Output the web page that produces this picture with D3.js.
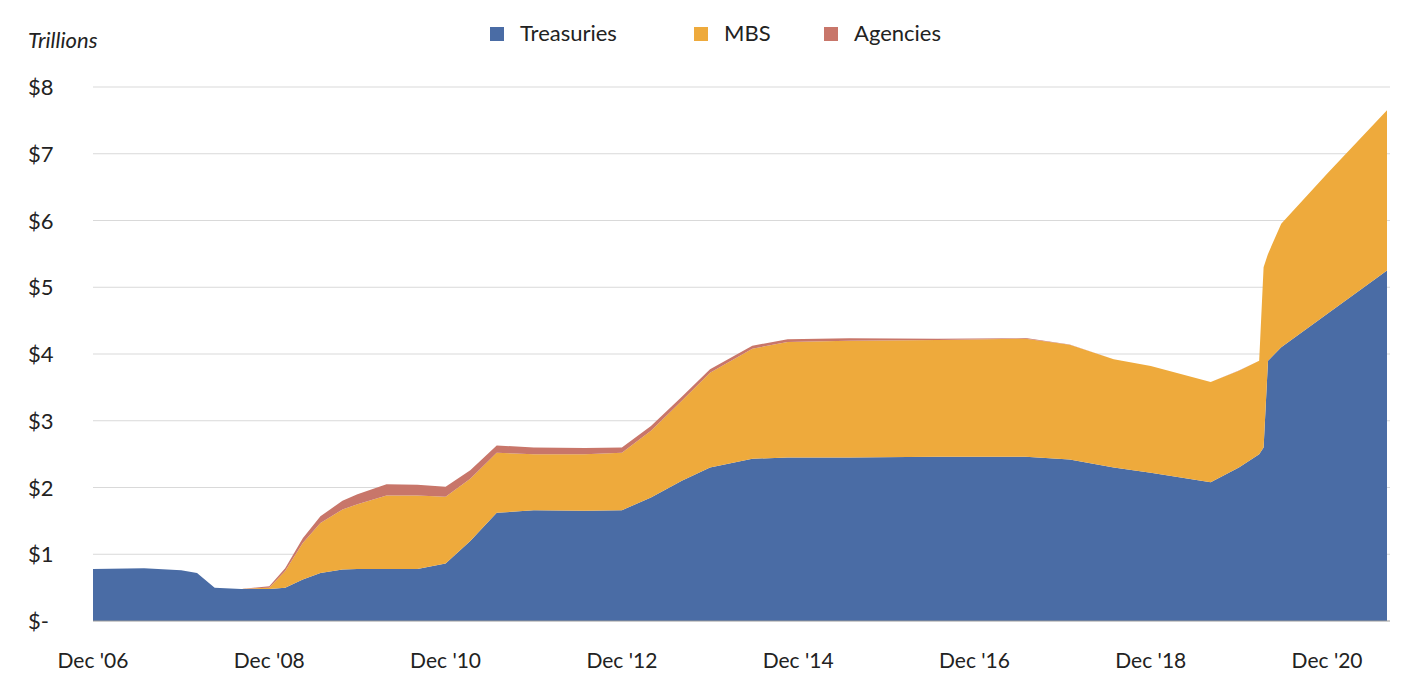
<!DOCTYPE html><html><head><meta charset="utf-8">
<script src="https://cdn.jsdelivr.net/npm/d3@7"></script>
<style>body{margin:0;background:#fff}text{font-family:Lato,"Open Sans",sans-serif}</style></head><body>
<svg id="c" width="1420" height="698"></svg>
<script>
const dates=[2006.92,2007.5,2007.92,2008.1,2008.3,2008.6,2008.92,2009.1,2009.3,2009.5,2009.75,2009.92,2010.25,2010.6,2010.92,2011.2,2011.5,2011.92,2012.5,2012.92,2013.25,2013.6,2013.92,2014.4,2014.8,2015.5,2016.5,2017.5,2018.0,2018.5,2018.92,2019.6,2019.92,2020.15,2020.2,2020.25,2020.4,2020.92,2021.6];
const treasuries=[0.78,0.79,0.76,0.72,0.50,0.48,0.48,0.50,0.62,0.72,0.77,0.78,0.78,0.78,0.86,1.2,1.62,1.66,1.65,1.66,1.85,2.1,2.3,2.43,2.45,2.45,2.46,2.46,2.42,2.3,2.22,2.08,2.3,2.5,2.6,3.9,4.1,4.6,5.25];
const mbs=[0,0,0,0,0,0,0.02,0.25,0.55,0.75,0.9,0.97,1.1,1.1,1.0,0.93,0.9,0.84,0.85,0.86,1.0,1.2,1.42,1.65,1.73,1.75,1.75,1.77,1.72,1.62,1.6,1.5,1.45,1.4,2.7,1.6,1.85,2.1,2.4];
const agencies=[0,0,0,0,0,0,0.02,0.04,0.07,0.1,0.13,0.15,0.17,0.16,0.15,0.13,0.11,0.1,0.09,0.08,0.07,0.06,0.05,0.045,0.04,0.035,0.02,0.008,0.003,0.002,0.002,0.002,0.002,0,0,0,0,0,0];
const tickYears=[2006.92,2008.92,2010.92,2012.92,2014.92,2016.92,2018.92,2020.92];
const tickLabels=["Dec '06","Dec '08","Dec '10","Dec '12","Dec '14","Dec '16","Dec '18","Dec '20"];
const yTicks=[0,1,2,3,4,5,6,7,8];
const keys=["Treasuries","MBS","Agencies"], colors=["#4a6ca5","#eeaa3c","#c8766a"];
const rows=dates.map((d,i)=>({d,Treasuries:treasuries[i],MBS:mbs[i],Agencies:agencies[i]}));
const svg=d3.select("#c");
const x=d3.scaleLinear().domain([2006.92,2021.6]).range([93,1387]);
const y=d3.scaleLinear().domain([0,8]).range([621,87]);
svg.append("g").selectAll("line").data(yTicks.slice(1)).join("line")
 .attr("x1",93).attr("x2",1390).attr("y1",d=>y(d)).attr("y2",d=>y(d)).attr("stroke","#d9d9d9");
const st=d3.stack().keys(keys)(rows);
const area=d3.area().x(d=>x(d.data.d)).y0(d=>y(d[0])).y1(d=>y(d[1]));
svg.append("g").selectAll("path").data(st).join("path").attr("d",area).attr("fill",(d,i)=>colors[i]);
svg.append("line").attr("x1",93).attr("x2",1390).attr("y1",y(0)).attr("y2",y(0)).attr("stroke","#999");
svg.append("g").selectAll("text").data(yTicks).join("text").attr("x",28).attr("y",d=>y(d)+8)
 .attr("font-size",22).attr("fill","#222").text(d=>d===0?"$-":"$"+d);
svg.append("g").selectAll("text").data(tickYears).join("text").attr("x",d=>x(d)).attr("y",668)
 .attr("text-anchor","middle").attr("font-size",21).attr("fill","#222").text((d,i)=>tickLabels[i]);
svg.append("text").attr("x",28).attr("y",48).attr("font-size",22).attr("font-style","italic").attr("fill","#222").text("Trillions");
const lx=[490,694,824];
const lg=svg.append("g").selectAll("g").data(keys).join("g").attr("transform",(d,i)=>`translate(${lx[i]},0)`);
lg.append("rect").attr("y",27).attr("width",14).attr("height",14).attr("fill",(d,i)=>colors[i]);
lg.append("text").attr("x",30).attr("y",41).attr("font-size",22).attr("fill","#222").text(d=>d);
</script></body></html>
